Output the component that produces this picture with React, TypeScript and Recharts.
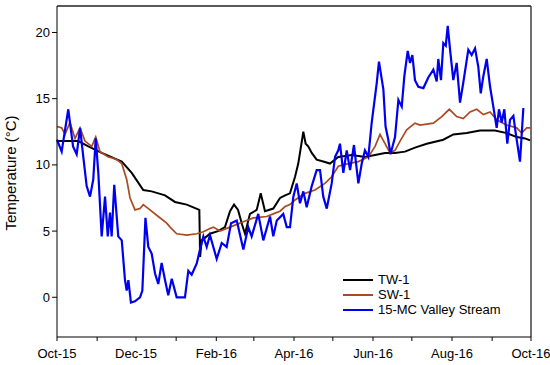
import { LineChart, Line, XAxis, YAxis, ReferenceLine } from "recharts";

// day index counted from 1 Oct 2015, temperature in °C
const TW1: [number, number][] = [
  [0, 11.8], [16.4, 11.8], [24.2, 11.4], [34.5, 10.9], [50, 10.25], [57.7, 9.4],
  [66.6, 8.1], [73.1, 8.0], [83.4, 7.7], [91.1, 7.2], [100.2, 7.0], [109.9, 6.6],
  [110.5, 3.05], [111.7, 4.3], [115.6, 4.6], [118.1, 4.8], [124.3, 5.0], [129.7, 5.3],
  [133.6, 6.5], [136.7, 7.0], [139.8, 6.6], [142.9, 5.5], [145.2, 4.8], [149, 6.3],
  [154.2, 6.6], [157.3, 7.85], [160.6, 6.5], [167, 6.7], [172.2, 7.5], [176.1, 7.7],
  [179.9, 7.85], [183.8, 9.1], [186.3, 10.1], [190.2, 12.5], [192, 11.6], [194, 11.4],
  [196.7, 10.9], [200.5, 10.4], [205.6, 10.25], [210.8, 10.1], [217.2, 10.6],
  [227.6, 10.75], [237.8, 10.6], [245.6, 10.75], [253.3, 10.9], [261, 10.9],
  [268.7, 11.0], [276.4, 11.3], [285.5, 11.6], [298.3, 11.9], [306, 12.3],
  [316.4, 12.4], [326.6, 12.6], [338.2, 12.6], [347.3, 12.4], [355, 12.1],
  [361.4, 12.0], [365.3, 11.85],
];

const SW1: [number, number][] = [
  [0, 12.9], [3.6, 12.8], [6.2, 12.3], [10, 13.2], [13.9, 12.0], [17.8, 12.8],
  [21.6, 11.8], [26.8, 11.4], [29.9, 12.1], [33.2, 11.0], [39.6, 10.6], [43.5, 10.5],
  [46.1, 10.4], [50, 10.1], [53.8, 8.9], [56.4, 7.5], [60.2, 6.6], [64.1, 6.7],
  [66.6, 7.0], [71.8, 6.6], [78.2, 6.1], [84.7, 5.6], [87.3, 5.3], [92.4, 4.8],
  [100.2, 4.7], [107.9, 4.8], [113, 4.95], [118.1, 5.2], [120.7, 5.3], [125.9, 5.0],
  [133.6, 5.3], [143.9, 5.7], [151.6, 6.0], [161.9, 6.1], [167, 6.3], [172.2, 6.5],
  [176.1, 6.85], [179.9, 7.0], [183.8, 7.35], [191.5, 7.85], [199.2, 8.1],
  [206.9, 8.6], [212.1, 9.1], [217.2, 9.9], [224.9, 10.1], [232.7, 10.25],
  [240.4, 10.6], [245.6, 11.4], [249.4, 12.3], [253.3, 11.6], [257.1, 10.9],
  [261, 11.1], [264.9, 11.8], [270, 12.65], [276.4, 13.15], [280.3, 13.0],
  [290.6, 13.15], [297.1, 13.65], [302.9, 14.2], [308.6, 13.65], [313.7, 13.5],
  [318.9, 14.0], [324.1, 14.2], [329.2, 13.8], [334.4, 14.0], [339.5, 13.4],
  [347.3, 13.0], [355, 12.8], [358.8, 12.4], [362.7, 12.8], [365.8, 12.8],
];

const STREAM: [number, number][] = [
  [0, 11.9], [3.6, 11.0], [8.7, 14.2], [12.4, 11.4], [15.2, 10.8], [17.8, 12.8],
  [20.3, 10.6], [22.9, 8.4], [25.5, 7.6], [28, 8.9], [29.9, 12.0], [31.9, 9.4],
  [34.5, 4.6], [37.1, 7.6], [39.2, 4.6], [40.9, 6.4], [42.2, 4.6], [44.2, 8.5],
  [47.3, 4.6], [50, 4.3], [52.5, 1.3], [53.8, 0.5], [55.1, 1.3], [57.1, -0.4],
  [60.2, -0.3], [64.1, 0], [65.9, 0.5], [68.3, 6.0], [70.5, 3.8], [73.1, 3.3],
  [75.7, 1.8], [78.2, 1.0], [80.8, 2.6], [83.4, 1.3], [85.9, 0.15], [88.6, 1.4],
  [92.4, 0], [98.8, 0], [101.4, 2.0], [104, 1.7], [107.9, 2.55], [110.4, 3.6],
  [113, 4.6], [115.6, 3.8], [118.1, 4.7], [123.3, 2.9], [127.2, 4.1], [131, 3.8],
  [134.4, 5.6], [138.8, 5.8], [143.9, 3.6], [147.7, 5.3], [150.3, 4.6], [155.4, 6.3],
  [159.3, 4.3], [164.5, 6.1], [167, 4.6], [169.7, 5.8], [174.7, 6.3], [177.4, 5.3],
  [179.9, 5.3], [182.5, 7.6], [185.1, 8.6], [187.6, 7.1], [190.2, 8.0], [192.8, 6.8],
  [196.7, 8.4], [200.5, 9.6], [203.1, 9.6], [205.6, 7.6], [208.3, 6.7], [212.1, 8.6],
  [214.7, 10.6], [217.2, 11.1], [218.5, 11.6], [221.1, 9.4], [223.7, 11.1],
  [226.3, 9.6], [229.3, 11.5], [232.7, 8.6], [235.3, 10.1], [237.8, 11.1],
  [240.4, 10.6], [243, 13.2], [246.9, 16.2], [248.6, 17.8], [252, 15.7], [253.7, 12.9],
  [255.8, 11.9], [257.5, 10.8], [261, 12.1], [263.6, 14.9], [266.2, 14.4],
  [268.2, 16.7], [270.8, 18.6], [272.6, 17.7], [274.4, 18.3], [276.4, 16.4],
  [279, 15.9], [282.9, 15.8], [286.7, 16.6], [290.6, 17.2], [293.2, 16.3],
  [294.4, 18.0], [296.5, 16.4], [298.3, 19.2], [300.2, 19.0], [301.7, 20.5],
  [303.5, 18.7], [306, 16.4], [308.6, 17.7], [311.2, 14.7], [313.7, 16.2],
  [317.6, 18.7], [320.2, 18.3], [322.8, 18.8], [325.3, 17.4], [327.2, 15.4],
  [329.2, 16.7], [331.8, 18.0], [334.4, 15.9], [336.9, 14.4], [339.5, 12.8],
  [341.3, 14.2], [343.4, 13.2], [345.4, 14.2], [347.7, 11.6], [349.8, 13.4],
  [352.4, 13.7], [354.2, 12.4], [357.5, 10.25], [360.1, 14.3],
];

const X_TICKS = [0, 31, 61, 92, 123, 152, 183, 213, 244, 274, 305, 336, 366];
const X_LABELS: Record<number, string> = {
  0: "Oct-15", 61: "Dec-15", 123: "Feb-16", 183: "Apr-16",
  244: "Jun-16", 305: "Aug-16", 366: "Oct-16",
};
const Y_TICKS = [0, 5, 10, 15, 20];

const FONT = "'Liberation Sans', Arial, sans-serif";
const BROWN = "#a94a22";
const BLUE = "#0000f0";

const toRows = (pts: [number, number][]) => pts.map(([day, t]) => ({ day, t }));

const SERIES = [
  { name: "TW-1", data: toRows(TW1), color: "#000000", width: 2 },
  { name: "SW-1", data: toRows(SW1), color: BROWN, width: 1.7 },
  { name: "15-MC Valley Stream", data: toRows(STREAM), color: BLUE, width: 2.2 },
];

function XTick({ x, y, payload }: any) {
  const label = X_LABELS[payload.value];
  if (!label) return <g />;
  return (
    <text x={x} y={y + 15} textAnchor="middle" fontSize={13} fontFamily={FONT} fill="#000">
      {label}
    </text>
  );
}

function YLabel() {
  return (
    <text
      x={16}
      y={173}
      transform="rotate(-90 16 173)"
      textAnchor="middle"
      fontSize={15}
      fontFamily={FONT}
      fill="#000"
    >
      Temperature (°C)
    </text>
  );
}

export default function App() {
  return (
    <div style={{ position: "absolute", left: 0, top: 0, width: 550, height: 365, background: "#fff" }}>
      <LineChart width={550} height={365} margin={{ top: 6, right: 19, left: 0, bottom: 0 }}>
        <XAxis
          dataKey="day"
          type="number"
          domain={[0, 366]}
          ticks={X_TICKS}
          interval={0}
          height={28}
          tick={<XTick />}
          tickSize={4}
          stroke="#000"
          allowDuplicatedCategory={false}
        />
        <YAxis
          type="number"
          domain={[-3, 22]}
          ticks={Y_TICKS}
          width={57}
          tickSize={5}
          stroke="#000"
          tick={{ fontSize: 13, fontFamily: FONT, fill: "#000" }}
          label={{ content: () => <YLabel /> }}
        />
        <ReferenceLine y={22} stroke="#222" strokeWidth={1.3} />
        <ReferenceLine x={366} stroke="#222" strokeWidth={1.3} />
        {SERIES.map((s) => (
          <Line
            key={s.name}
            data={s.data}
            dataKey="t"
            name={s.name}
            type="linear"
            stroke={s.color}
            strokeWidth={s.width}
            dot={false}
            activeDot={false}
            isAnimationActive={false}
          />
        ))}
      </LineChart>
      <div style={{ position: "absolute", left: 343, top: 272, fontFamily: FONT, fontSize: 13, lineHeight: "15px" }}>
        {SERIES.map((s) => (
          <div key={s.name} style={{ display: "flex", alignItems: "center", height: 15 }}>
            <svg width={30} height={6} style={{ marginRight: 5 }}>
              <line x1={0} y1={3} x2={30} y2={3} stroke={s.color} strokeWidth={2} />
            </svg>
            <span>{s.name}</span>
          </div>
        ))}
      </div>
    </div>
  );
}
